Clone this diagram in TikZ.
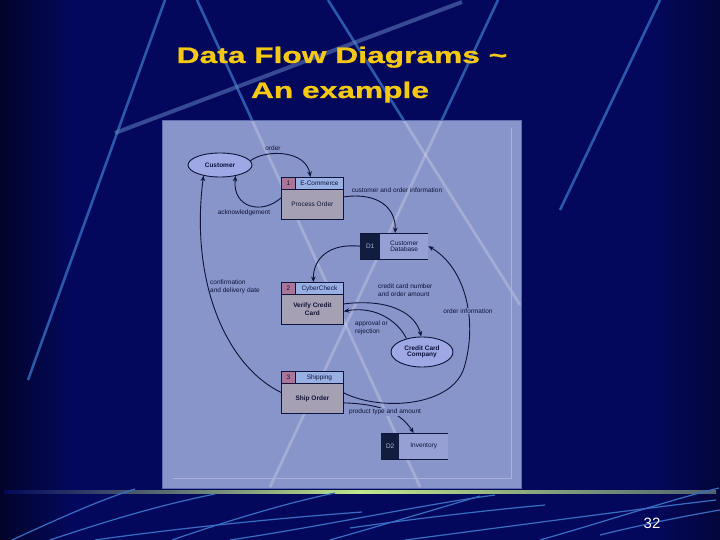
\documentclass[tikz,border=0pt]{standalone}
\usepackage{fontspec}
\setmainfont{Liberation Sans}
\newfontfamily\titlefont[FakeBold=0.7]{Liberation Sans Bold}
\usetikzlibrary{shapes.geometric,arrows.meta}
\definecolor{bgnavy}{RGB}{4,8,92}
\definecolor{deco}{RGB}{42,88,170}
\definecolor{panel}{RGB}{136,149,202}
\definecolor{paneledge}{RGB}{92,108,178}
\definecolor{innerline}{RGB}{172,178,218}
\definecolor{ink}{RGB}{14,20,58}
\definecolor{numpink}{RGB}{172,116,150}
\definecolor{headblue}{RGB}{152,176,228}
\definecolor{bodygray}{RGB}{166,160,180}
\definecolor{ellfill}{RGB}{158,168,228}
\definecolor{storedark}{RGB}{18,28,62}
\definecolor{storelight}{RGB}{150,160,212}
\definecolor{titlegold}{RGB}{246,200,18}
\definecolor{barlight}{RGB}{192,232,140}
\definecolor{swoosh}{RGB}{55,110,195}
\begin{document}
\begin{tikzpicture}[x=1pt,y=-1pt,
  small/.style={font=\fontsize{6.5}{7.5}\selectfont},
  smallbold/.style={font=\fontsize{6.5}{7.5}\selectfont\bfseries},
  cellbase/.style={draw=ink, line width=0.8pt, inner sep=0pt, anchor=north west, text=ink},
  numcell/.style={cellbase, fill=numpink, minimum width=14pt, minimum height=12pt, small},
  headcell/.style={cellbase, fill=headblue, minimum width=48pt, minimum height=12pt, small},
  bodycell/.style={cellbase, fill=bodygray, minimum width=62pt, minimum height=30pt, small, align=center},
  darkcell/.style={inner sep=0pt, anchor=north west, fill=storedark, text=innerline, minimum height=26pt, small},
  lightcell/.style={inner sep=0pt, anchor=north west, fill=storelight, text=ink, minimum height=26pt, small, align=center},
  entity/.style={ellipse, draw=ink, line width=0.9pt, fill=ellfill, inner sep=0pt, smallbold, text=ink, align=center},
  flow/.style={draw=ink, line width=0.9pt, -{Stealth[length=5.5pt,width=4.5pt]}},
  lbl/.style={small, text=ink, inner sep=1pt},
  decoline/.style={deco, line width=2.6pt},
  decolight/.style={white, opacity=0.22, line width=2.8pt},
  titletext/.style={text=titlegold, anchor=base, font=\fontsize{22.5}{26}\titlefont},
  sw/.style={swoosh, line width=1.2pt}
]
\useasboundingbox (0,0) rectangle (720,540);
\fill[bgnavy] (0,0) rectangle (720,540);
\shade[left color=black!55!bgnavy, right color=bgnavy] (0,0) rectangle (70,540);
\shade[left color=bgnavy, right color=black!35!bgnavy] (650,0) rectangle (720,540);

% decorative background lines
\draw[decoline] (165,0) -- (28,380);
\draw[decoline] (197,0) -- (420,487);
\draw[decoline] (328,0) -- (520,305);
\draw[decoline] (498,0) -- (270,487);
\draw[decoline] (660,0) -- (560,210);
\draw[deco!75!white, line width=4pt, opacity=0.55] (462,2) -- (115,133);

% title
\node[titletext] (t1) at (342,63) {\scalebox{1.41}[1]{Data Flow Diagrams \textasciitilde}};
\node[titletext] (t2) at (340,98) {\scalebox{1.41}[1]{An example}};

% panel
\fill[panel] (162,121) rectangle (521,488);
\begin{scope}
  \clip (162,121) rectangle (521,488);
  \draw[decolight] (197,0) -- (420,487);
  \draw[decolight] (328,0) -- (520,305);
  \draw[decolight] (498,0) -- (270,487);
\end{scope}
\draw[paneledge, line width=1pt] (162,121) rectangle (521,488);
\draw[innerline, line width=0.8pt] (511,128) -- (511,478) -- (173,478);

% bottom bar
\shade[left color=bgnavy, right color=barlight] (4,490.5) rectangle (360,493.5);
\shade[left color=barlight, right color=bgnavy!60!barlight] (360,490.5) rectangle (716,493.5);

% swooshes
\draw[sw] (12,540) .. controls (60,518) and (100,500) .. (135,489);
\draw[sw] (50,540) .. controls (110,520) and (160,505) .. (215,494);
\draw[sw] (95,540) .. controls (180,528) and (280,518) .. (362,512);
\draw[sw] (172,540) .. controls (230,520) and (290,502) .. (335,493);
\draw[sw] (230,540) .. controls (330,525) and (420,505) .. (495,495);
\draw[sw] (330,540) .. controls (400,520) and (450,505) .. (480,496);
\draw[sw] (350,528) .. controls (420,518) and (490,510) .. (545,505);
\draw[sw] (405,540) .. controls (520,525) and (630,510) .. (716,500);
\draw[sw] (540,540) .. controls (610,520) and (670,500) .. (719,488);
\draw[sw] (600,535) .. controls (640,525) and (690,515) .. (720,510);

% page number
\node[text=white, anchor=base, font=\fontsize{15}{18}\selectfont] (pg) at (652,528) {32};

% ---- diagram ----
\node[entity, minimum width=64pt, minimum height=24pt] (cust) at (220,165) {Customer};
\node[entity, minimum width=62pt, minimum height=30pt] (cc) at (422,352) {Credit Card\\[-1pt]Company};

% process 1
\node[numcell] (p1n) at (281,177) {1};
\node[headcell] (p1h) at (295,177) {E-Commerce};
\node[bodycell] (p1b) at (281,189) {Process Order};
% process 2
\node[numcell] (p2n) at (281,282) {2};
\node[headcell] (p2h) at (295,282) {CyberCheck};
\node[bodycell, smallbold] (p2b) at (281,294) {Verify Credit\\Card};
% process 3
\node[numcell] (p3n) at (281,371) {3};
\node[headcell] (p3h) at (295,371) {Shipping};
\node[bodycell, smallbold] (p3b) at (281,383) {Ship Order};

% stores
\node[darkcell, minimum width=20pt] (d1n) at (360,233) {D1};
\node[lightcell, minimum width=48pt] (d1t) at (380,233) {Customer\\[-1pt]Database};
\draw[ink, line width=0.9pt] (d1n.north west) -- (d1t.north east);
\draw[ink, line width=0.9pt] (d1n.south west) -- (d1t.south east);
\node[darkcell, minimum width=18pt] (d2n) at (381,433) {D2};
\node[lightcell, minimum width=49pt] (d2t) at (399,433) {Inventory};
\draw[ink, line width=0.9pt] (d2n.north west) -- (d2t.north east);
\draw[ink, line width=0.9pt] (d2n.south west) -- (d2t.south east);

% flows
\draw[flow] (cust.8) .. controls (266,149) and (306,150) .. ([xshift=-9pt]p1h.north);
\draw[flow] ([yshift=6.5pt]p1b.west) .. controls (262,215) and (232,208) .. (cust.-35);
\draw[flow] ([yshift=7.5pt]p1b.east) .. controls (378,192) and (396,208) .. ([xshift=-9pt]d1t.north);
\draw[flow] (d1n.west) .. controls (330,243) and (313,258) .. ([xshift=-6pt]p2h.north);
\draw[flow] ([yshift=5.5pt]p2b.east) .. controls (392,298) and (416,315) .. (cc.93);
\draw[flow] (cc.139) .. controls (396,318) and (372,306) .. ([yshift=-2pt]p2b.east);
\draw[flow] ([yshift=5.5pt]p3b.east) .. controls (382,412) and (452,406) .. (464,368) .. controls (478,322) and (466,268) .. (d1t.east);
\draw[flow] ([yshift=6pt]p3b.west) .. controls (225,365) and (190,280) .. (cust.-147);
\draw[flow] ([yshift=-4.5pt]p3b.east) .. controls (385,404) and (402,415) .. ([xshift=-10pt]d2t.north);

% labels
\node[lbl] (lorder) at (273,148) {order};
\node[lbl] (lack) at (244,213) {acknowledgement};
\node[lbl] (lcoi) at (397,190) {customer and order information};
\node[lbl, anchor=north west, align=left, font=\fontsize{6.5}{8}\selectfont] (lccn) at (377,283) {credit card number\\and order amount};
\node[lbl, anchor=west, align=left, font=\fontsize{6.5}{7.5}\selectfont] (lapp) at (354,328) {approval or\\rejection};
\node[lbl, fill=panel] (loi) at (468,311) {order information};
\node[lbl, anchor=west, align=left, font=\fontsize{6.5}{7.5}\selectfont] (lconf) at (209,287) {confirmation\\and delivery date};
\node[lbl, fill=panel] (lpta) at (385,412) {product type and amount};
\end{tikzpicture}
\end{document}
